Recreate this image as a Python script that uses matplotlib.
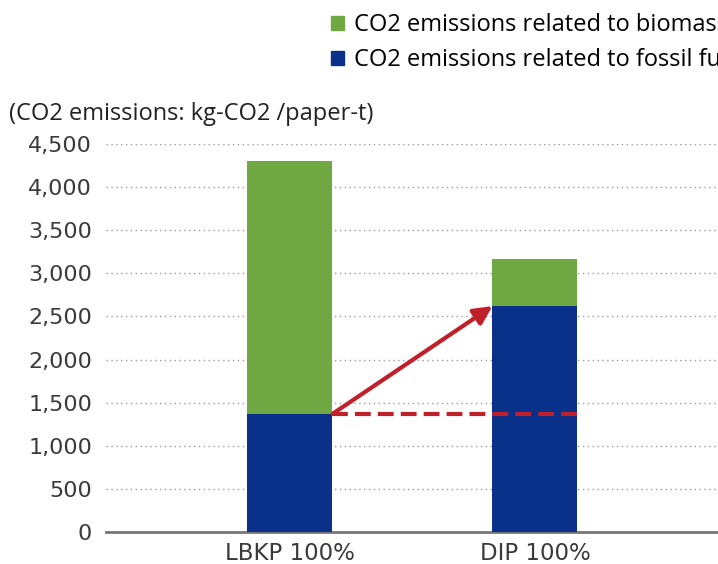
import numpy as np
import matplotlib.pyplot as plt
from matplotlib.patches import Patch

plt.rcParams['font.family'] = ['Open Sans', 'DejaVu Sans']

categories = ["LBKP 100%", "DIP 100%"]
fossil = [1370, 2620]
biomass = [2930, 550]
yticks = [0, 500, 1000, 1500, 2000, 2500, 3000, 3500, 4000, 4500]

GREEN = "#70a844"
BLUE = "#0a3189"
RED = "#c0202a"
TXT = "#3a3a3a"

fig = plt.figure(figsize=(7.18, 5.64), dpi=100)
ax = fig.add_axes([106/718, 32/564, 1 - 106/718, (532-144)/564])

x = np.arange(len(categories))
w = 0.347
ax.bar(x, fossil, w, color=BLUE, zorder=3)
ax.bar(x, biomass, w, bottom=fossil, color=GREEN, zorder=3)

# dashed reference at LBKP fossil level, arrow up to DIP fossil level
ax.plot([x[0] + w/2, x[1] + w/2], [fossil[0], fossil[0]], color=RED,
        lw=3, ls=(0, (3.8, 1.7)), zorder=4)
ax.annotate("", xy=(x[1] - w/2, fossil[1]), xytext=(x[0] + w/2, fossil[0]),
            arrowprops=dict(arrowstyle="-|>,head_length=1.1,head_width=0.55",
                            color=RED, lw=3, shrinkA=0, shrinkB=0), zorder=5)

ax.set_xlim(-0.751, 1.747)
ax.set_ylim(0, 4500)
ax.set_yticks(yticks)
ax.set_yticklabels([f"{v:,}" for v in yticks], fontsize=16, color=TXT,
                   family="DejaVu Sans")
ax.set_xticks(x)
ax.set_xticklabels(categories, fontsize=16.5, color=TXT, family="DejaVu Sans")
ax.tick_params(axis='y', length=0, pad=10)
ax.tick_params(axis='x', length=0, pad=7)
ax.grid(axis='y', ls=(0, (1, 2.5)), color="#999999", lw=1, zorder=0)
for s in ["left", "right", "top"]:
    ax.spines[s].set_visible(False)
ax.spines["bottom"].set_color("#777777")
ax.spines["bottom"].set_linewidth(2)

fig.text(9/718, 1 - 114/564, "(CO2 emissions: kg-CO2 /paper-t)", fontsize=17,
         color="#222222", va="center")

handles = [Patch(color=GREEN, label="CO2 emissions related to biomass fuels"),
           Patch(color=BLUE, label="CO2 emissions related to fossil fuels")]
fig.legend(handles=handles, loc="upper left", bbox_to_anchor=(322/718, 1 - 4/564),
           frameon=False, fontsize=17, handlelength=0.55, handleheight=0.55,
           handletextpad=0.42, labelspacing=0.45, borderaxespad=0)

fig.savefig("out.png", dpi=100)
